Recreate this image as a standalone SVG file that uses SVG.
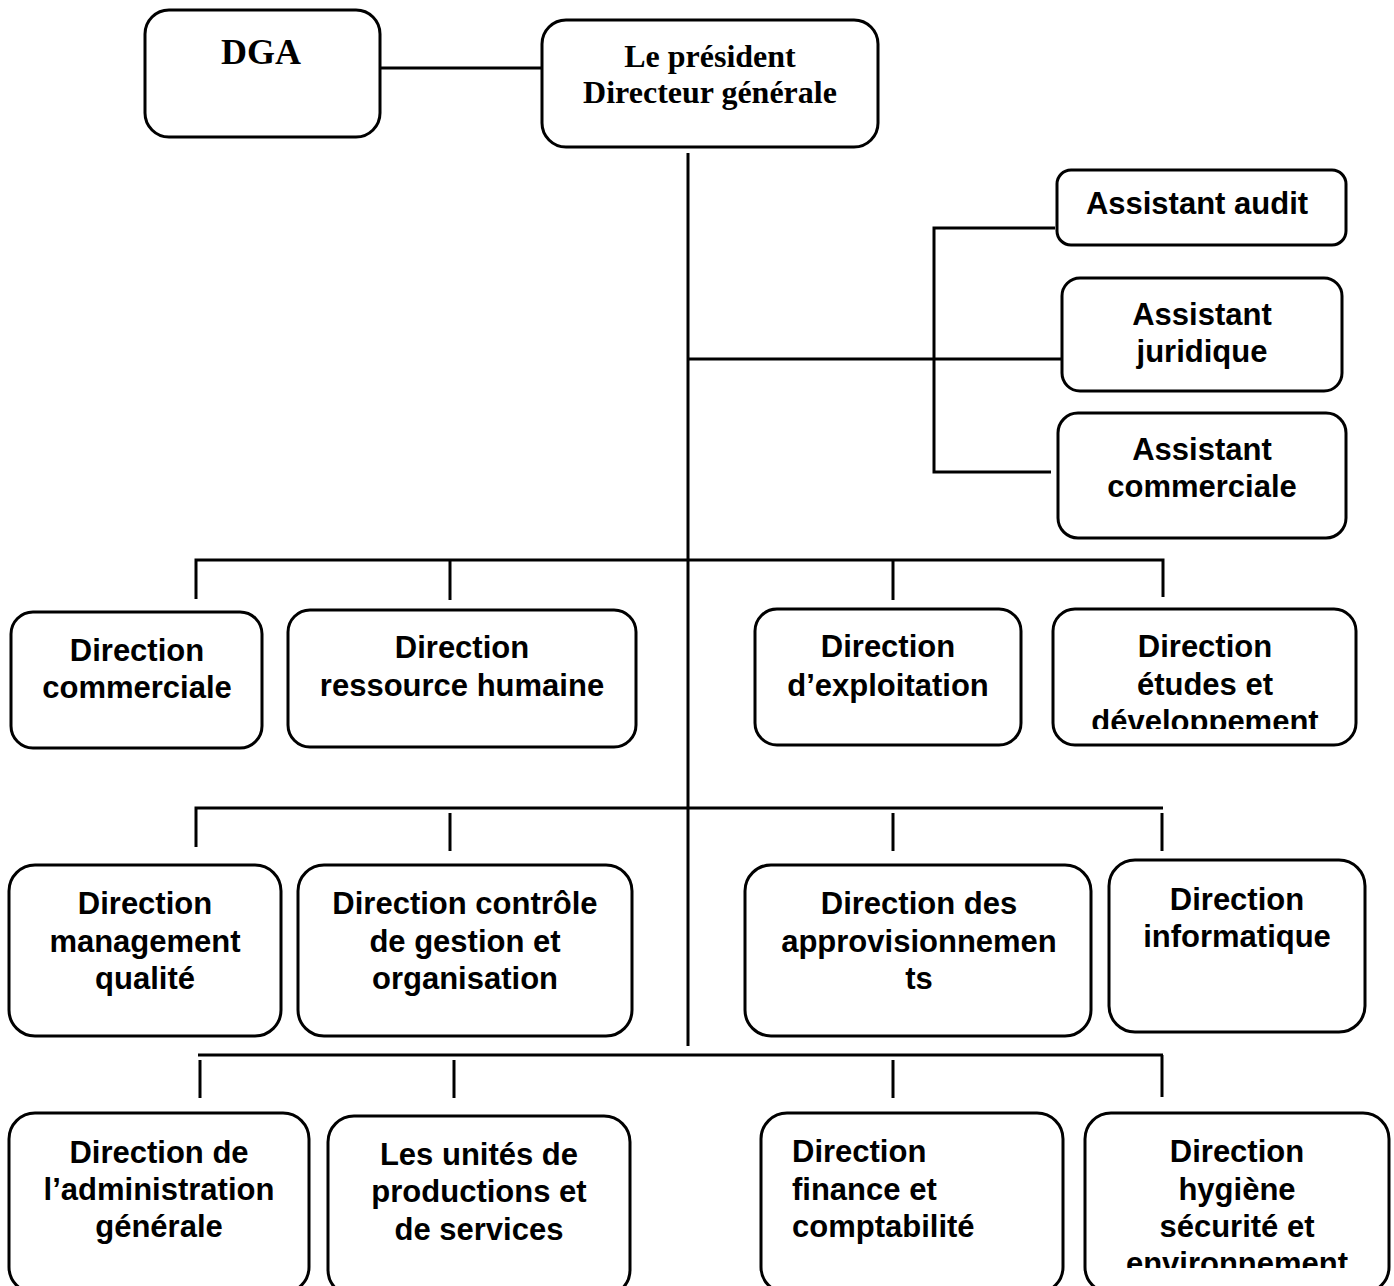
<svg xmlns="http://www.w3.org/2000/svg" width="1394" height="1286" viewBox="0 0 1394 1286">
<style>
.box{fill:#fff;stroke:#000;stroke-width:3}
.ln{stroke:#000;stroke-width:3;fill:none}
.t{font-family:"Liberation Serif","Times New Roman",serif;font-weight:bold;text-anchor:middle;fill:#000}
.a{font-family:"Liberation Sans",Arial,sans-serif;font-weight:bold;font-size:31px;text-anchor:middle;fill:#000}
.d{font-family:"Liberation Sans",Arial,sans-serif;font-weight:bold;font-size:31px;text-anchor:middle;fill:#000}
.d.s{text-anchor:start}
</style>
<defs>
<clipPath id="c1"><rect x="1053" y="609" width="303" height="120"/></clipPath>
<clipPath id="c2"><rect x="1085" y="1113" width="304" height="155"/></clipPath>
</defs>
<rect width="1394" height="1286" fill="#fff"/>
<g id="connectors" class="ln">
<line x1="381" y1="68" x2="542" y2="68"/>
<line x1="688" y1="153" x2="688" y2="1046"/>
<line x1="688" y1="359" x2="1062" y2="359"/>
<polyline points="1055,228 934,228 934,472 1051,472"/>
<polyline points="196,599 196,560 1163,560 1163,597"/>
<line x1="450" y1="560" x2="450" y2="600"/>
<line x1="893" y1="560" x2="893" y2="600"/>
<polyline points="196,847 196,808 1163,808"/>
<line x1="450" y1="813" x2="450" y2="851"/>
<line x1="893" y1="813" x2="893" y2="851"/>
<line x1="1162" y1="813" x2="1162" y2="851"/>
<line x1="198" y1="1055" x2="1163" y2="1055"/>
<line x1="200" y1="1060" x2="200" y2="1098"/>
<line x1="454" y1="1060" x2="454" y2="1098"/>
<line x1="893" y1="1060" x2="893" y2="1098"/>
<line x1="1162" y1="1055" x2="1162" y2="1097"/>
</g>
<g id="dga"><rect class="box" x="145" y="10" width="235" height="127" rx="24"/><text class="t" x="261" y="64" font-size="36">DGA</text></g>
<g id="pdg"><rect class="box" x="542" y="20" width="336" height="127" rx="24"/><text class="t" x="710" y="67" font-size="32">Le président</text><text class="t" x="710" y="103" font-size="32">Directeur générale</text></g>
<g id="audit"><rect class="box" x="1057" y="170" width="289" height="75" rx="14"/><text class="a" x="1197" y="214">Assistant audit</text></g>
<g id="juridique"><rect class="box" x="1062" y="278" width="280" height="113" rx="18"/><text class="a" x="1202" y="325">Assistant</text><text class="a" x="1202" y="362">juridique</text></g>
<g id="commerciale-ass"><rect class="box" x="1058" y="413" width="288" height="125" rx="20"/><text class="a" x="1202" y="460">Assistant</text><text class="a" x="1202" y="497">commerciale</text></g>
<g id="dir-commerciale"><rect class="box" x="11" y="612" width="251" height="136" rx="22"/><text class="d" x="137" y="661">Direction</text><text class="d" x="137" y="698">commerciale</text></g>
<g id="dir-rh"><rect class="box" x="288" y="610" width="348" height="137" rx="22"/><text class="d" x="462" y="658">Direction</text><text class="d" x="462" y="696">ressource humaine</text></g>
<g id="dir-exploitation"><rect class="box" x="755" y="609" width="266" height="136" rx="22"/><text class="d" x="888" y="657">Direction</text><text class="d" x="888" y="696">d’exploitation</text></g>
<g id="dir-etudes"><rect class="box" x="1053" y="609" width="303" height="136" rx="22"/><g clip-path="url(#c1)"><text class="d" x="1205" y="657">Direction</text><text class="d" x="1205" y="695">études et</text><text class="d" x="1205" y="732">développement</text></g></g>
<g id="dir-qualite"><rect class="box" x="9" y="865" width="272" height="171" rx="26"/><text class="d" x="145" y="914">Direction</text><text class="d" x="145" y="952">management</text><text class="d" x="145" y="989">qualité</text></g>
<g id="dir-controle"><rect class="box" x="298" y="865" width="334" height="171" rx="26"/><text class="d" x="465" y="914">Direction contrôle</text><text class="d" x="465" y="952">de gestion et</text><text class="d" x="465" y="989">organisation</text></g>
<g id="dir-appro"><rect class="box" x="745" y="865" width="346" height="171" rx="26"/><text class="d" x="919" y="914">Direction des</text><text class="d" x="919" y="952">approvisionnemen</text><text class="d" x="919" y="989">ts</text></g>
<g id="dir-info"><rect class="box" x="1109" y="860" width="256" height="172" rx="26"/><text class="d" x="1237" y="910">Direction</text><text class="d" x="1237" y="947">informatique</text></g>
<g id="dir-admin"><rect class="box" x="9" y="1113" width="300" height="180" rx="26"/><text class="d" x="159" y="1163">Direction de</text><text class="d" x="159" y="1200">l’administration</text><text class="d" x="159" y="1237">générale</text></g>
<g id="unites"><rect class="box" x="328" y="1116" width="302" height="180" rx="26"/><text class="d" x="479" y="1165">Les unités de</text><text class="d" x="479" y="1202">productions et</text><text class="d" x="479" y="1240">de services</text></g>
<g id="dir-finance"><rect class="box" x="761" y="1113" width="302" height="180" rx="26"/><text class="d s" x="792" y="1162">Direction</text><text class="d s" x="792" y="1200">finance et</text><text class="d s" x="792" y="1237">comptabilité</text></g>
<g id="dir-hse"><rect class="box" x="1085" y="1113" width="304" height="180" rx="26"/><g clip-path="url(#c2)"><text class="d" x="1237" y="1162">Direction</text><text class="d" x="1237" y="1200">hygiène</text><text class="d" x="1237" y="1237">sécurité et</text><text class="d" x="1237" y="1274">environnement</text></g></g>
</svg>
